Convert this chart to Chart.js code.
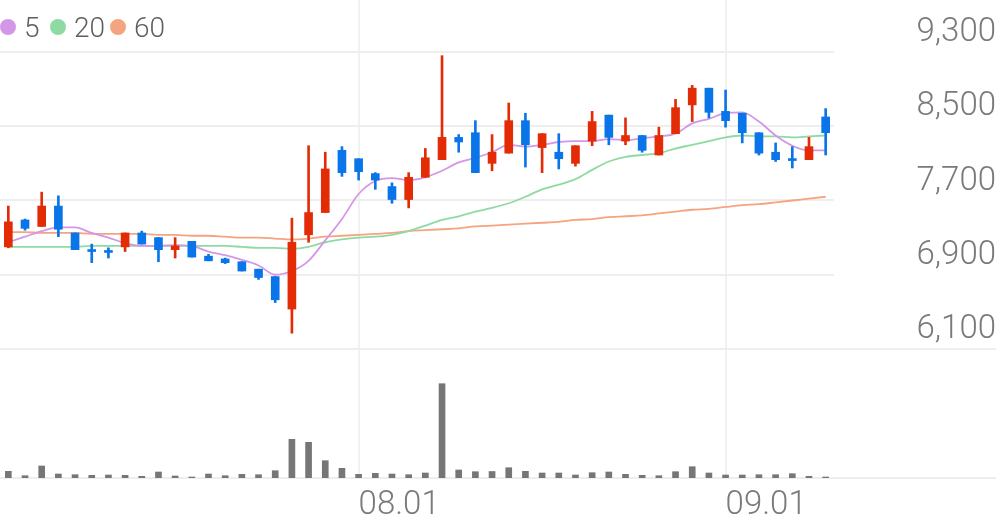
<!DOCTYPE html>
<html lang="ko">
<head>
<meta charset="utf-8">
<title>일봉 차트</title>
<script src="https://cdn.jsdelivr.net/npm/chart.js@4.4.1/dist/chart.umd.min.js"></script>
<style>
  html, body { margin: 0; padding: 0; background: #fff; }
  .wrap { position: relative; width: 996px; height: 522px; }
  #legend { position: absolute; left: 0; top: 11px; height: 32px; font: 300 28px Roboto, sans-serif; color: #5e5e5e; }
  #legend .item { position: absolute; top: 0; height: 32px; display: flex; align-items: center; white-space: nowrap; }
  #legend .dot { width: 16px; height: 16px; border-radius: 50%; margin-right: 8px; }
</style>
</head>
<body>
<div class="wrap">
  <canvas id="chart" width="996" height="522"></canvas>
  <div id="legend"></div>
</div>
<script>
const dates = [
  '07.03', '07.04', '07.05', '07.06', '07.07', '07.10', '07.11', '07.12', '07.13', '07.14',
  '07.17', '07.18', '07.19', '07.20', '07.21', '07.24', '07.25', '07.26', '07.27', '07.28',
  '07.31', '08.01', '08.02', '08.03', '08.04', '08.07', '08.08', '08.09', '08.10', '08.11',
  '08.14', '08.16', '08.17', '08.18', '08.21', '08.22', '08.23', '08.24', '08.25', '08.28',
  '08.29', '08.30', '08.31', '09.01', '09.04', '09.05', '09.06', '09.07', '09.08', '09.11',
];
const opens = [
  7200, 7490, 7420, 7640, 7350, 7170, 7160, 7200, 7350, 7300,
  7170, 7260, 7100, 7070, 7040, 6960, 6880, 6530, 7330, 7570,
  8240, 8150, 7990, 7850, 7710, 7950, 8140, 8380, 8430, 8100,
  8210, 8560, 8270, 8220, 8100, 8340, 8620, 8340, 8400, 8190,
  8420, 8730, 8910, 8660, 8640, 8430, 8220, 8150, 8140, 8600,
];
const highs = [
  7640, 7500, 7790, 7750, 7350, 7230, 7190, 7350, 7370, 7300,
  7300, 7260, 7120, 7080, 7040, 6960, 6880, 7510, 8290, 8220,
  8280, 8150, 8000, 7890, 8000, 8260, 9260, 8410, 8560, 8410,
  8750, 8640, 8420, 8420, 8290, 8660, 8620, 8590, 8400, 8490,
  8790, 8940, 8910, 8890, 8640, 8430, 8320, 8280, 8380, 8690,
];
const lows = [
  7190, 7380, 7420, 7310, 7170, 7030, 7080, 7150, 7230, 7040,
  7080, 7090, 7050, 7020, 6940, 6850, 6600, 6270, 7250, 7570,
  7960, 7920, 7820, 7670, 7620, 7950, 8140, 8220, 8000, 8020,
  8210, 8060, 8000, 8040, 8070, 8290, 8300, 8300, 8220, 8190,
  8420, 8550, 8590, 8490, 8320, 8190, 8120, 8050, 8140, 8190,
];
const closes = [
  7470, 7400, 7640, 7390, 7170, 7150, 7140, 7350, 7230, 7170,
  7210, 7090, 7050, 7030, 6940, 6870, 6630, 7250, 7570, 8040,
  8000, 8010, 7920, 7710, 7950, 8160, 8380, 8330, 8000, 8220,
  8560, 8300, 8420, 8150, 8290, 8550, 8380, 8400, 8240, 8400,
  8700, 8910, 8650, 8560, 8430, 8210, 8140, 8130, 8280, 8430,
];
const ma5 = [
  7250, 7310, 7370, 7410, 7410, 7350, 7300, 7240, 7210, 7210,
  7220, 7210, 7150, 7110, 7060, 7000, 6900, 6940, 7050, 7270,
  7500, 7770, 7910, 7940, 7920, 7950, 8020, 8110, 8160, 8220,
  8300, 8280, 8300, 8330, 8340, 8340, 8360, 8350, 8370, 8390,
  8420, 8530, 8580, 8640, 8650, 8550, 8400, 8290, 8240, 8240,
];
const ma20 = [
  7200, 7200, 7200, 7200, 7200, 7210, 7210, 7210, 7210, 7210,
  7210, 7210, 7210, 7210, 7200, 7190, 7190, 7180, 7200, 7250,
  7280, 7300, 7310, 7330, 7370, 7430, 7490, 7530, 7580, 7620,
  7670, 7740, 7820, 7870, 7930, 8030, 8120, 8170, 8190, 8210,
  8260, 8300, 8340, 8380, 8400, 8390, 8390, 8380, 8390, 8400,
];
const ma60 = [
  7360, 7360, 7350, 7350, 7350, 7340, 7340, 7340, 7340, 7330,
  7330, 7320, 7320, 7310, 7300, 7300, 7290, 7280, 7290, 7310,
  7320, 7330, 7340, 7350, 7370, 7380, 7390, 7400, 7420, 7430,
  7440, 7450, 7460, 7470, 7490, 7500, 7520, 7530, 7540, 7560,
  7580, 7600, 7610, 7630, 7650, 7660, 7680, 7700, 7720, 7740,
];
// 거래량 (천주)
const volumes = [
  67, 23, 120, 40, 33, 27, 30, 27, 17, 60,
  20, 10, 40, 23, 37, 33, 73, 387, 357, 173,
  97, 37, 47, 40, 33, 50, 943, 80, 63, 65,
  103, 67, 50, 50, 30, 53, 60, 37, 27, 23,
  63, 113, 50, 30, 30, 33, 33, 43, 17, 10,
];
const priceTicks = [6100, 6900, 7700, 8500, 9300];
const shownDates = ['08.01', '09.01'];
const maNames = ['5', '20', '60'];

const UP = '#e32c05';
const DOWN = '#0a75e9';
const MA_COLORS = ['#d497e8', '#8fdaa3', '#f6a47f'];
const AXIS_FONT = { family: 'Roboto', size: 33, weight: '300' };

const candleColor = ctx => closes[ctx.dataIndex] >= opens[ctx.dataIndex] ? UP : DOWN;

// 범례 (이동평균선)
const legendLeft = [0, 50, 110];
document.getElementById('legend').innerHTML = maNames.map((n, i) => `
  <span class="item" style="left:${legendLeft[i]}px">
    <span class="dot" style="background:${MA_COLORS[i]}"></span>${n}
  </span>`).join('');

// 맨 아래 가격선과 거래량 바닥선은 축 영역까지 끝까지 그림
const fullWidthLines = {
  id: 'fullWidthLines',
  beforeDatasetsDraw(chart) {
    const { ctx, scales } = chart;
    const ys = [scales.y.getPixelForValue(priceTicks[0]), scales.vol.getPixelForValue(0)];
    ctx.save();
    ctx.strokeStyle = '#eeeeee';
    ctx.lineWidth = 2;
    ys.forEach(y => {
      ctx.beginPath();
      ctx.moveTo(0, y);
      ctx.lineTo(chart.width, y);
      ctx.stroke();
    });
    ctx.restore();
  },
};

const maDataset = (data, i) => ({
  type: 'line',
  label: 'MA' + maNames[i],
  data,
  yAxisID: 'y',
  borderColor: MA_COLORS[i],
  borderWidth: 1.8,
  pointRadius: 0,
  cubicInterpolationMode: 'monotone',
  order: 2,
});

new Chart(document.getElementById('chart'), {
  type: 'bar',
  data: {
    labels: dates,
    datasets: [
      {
        label: 'wick',
        data: dates.map((_, i) => [lows[i], highs[i]]),
        yAxisID: 'y',
        backgroundColor: candleColor,
        barThickness: 2,
        grouped: false,
        order: 1,
      },
      {
        label: 'body',
        data: dates.map((_, i) => [opens[i], closes[i]]),
        yAxisID: 'y',
        backgroundColor: candleColor,
        barThickness: 8,
        minBarLength: 2,
        grouped: false,
        order: 0,
      },
      maDataset(ma5, 0),
      maDataset(ma20, 1),
      maDataset(ma60, 2),
      {
        label: 'volume',
        data: volumes,
        yAxisID: 'vol',
        backgroundColor: '#767676',
        barThickness: 6,
        grouped: false,
        order: 3,
      },
    ],
  },
  options: {
    responsive: false,
    animation: false,
    devicePixelRatio: 1,
    layout: { padding: 0 },
    plugins: { legend: { display: false }, tooltip: { enabled: false } },
    scales: {
      x: {
        offset: true,
        border: { display: false },
        grid: {
          offset: false,
          drawTicks: false,
          lineWidth: 2,
          color: ctx => shownDates.includes(dates[ctx.index]) ? '#f1f1f1' : 'rgba(0,0,0,0)',
        },
        ticks: {
          autoSkip: false,
          maxRotation: 0,
          align: 'start',
          padding: 8,
          color: '#7a7a7a',
          font: AXIS_FONT,
          callback: (v, i) => shownDates.includes(dates[i]) ? dates[i] : '',
        },
        afterFit: s => { s.height = 44; s.paddingLeft = 0; s.paddingRight = 0; },
      },
      y: {
        position: 'right',
        min: 4710,
        max: 9860,
        afterBuildTicks: s => { s.ticks = priceTicks.map(value => ({ value })); },
        border: { display: false },
        grid: { color: '#eeeeee', lineWidth: 2, drawTicks: false },
        ticks: {
          padding: 76,
          crossAlign: 'far',
          labelOffset: -19,
          color: '#7a7a7a',
          font: AXIS_FONT,
          callback: v => v.toLocaleString('en-US'),
        },
        afterFit: s => { s.width = 162; s.paddingTop = 0; s.paddingBottom = 0; },
      },
      vol: { display: false, min: 0, max: 4780 },
    },
  },
  plugins: [fullWidthLines],
});
</script>
</body>
</html>
